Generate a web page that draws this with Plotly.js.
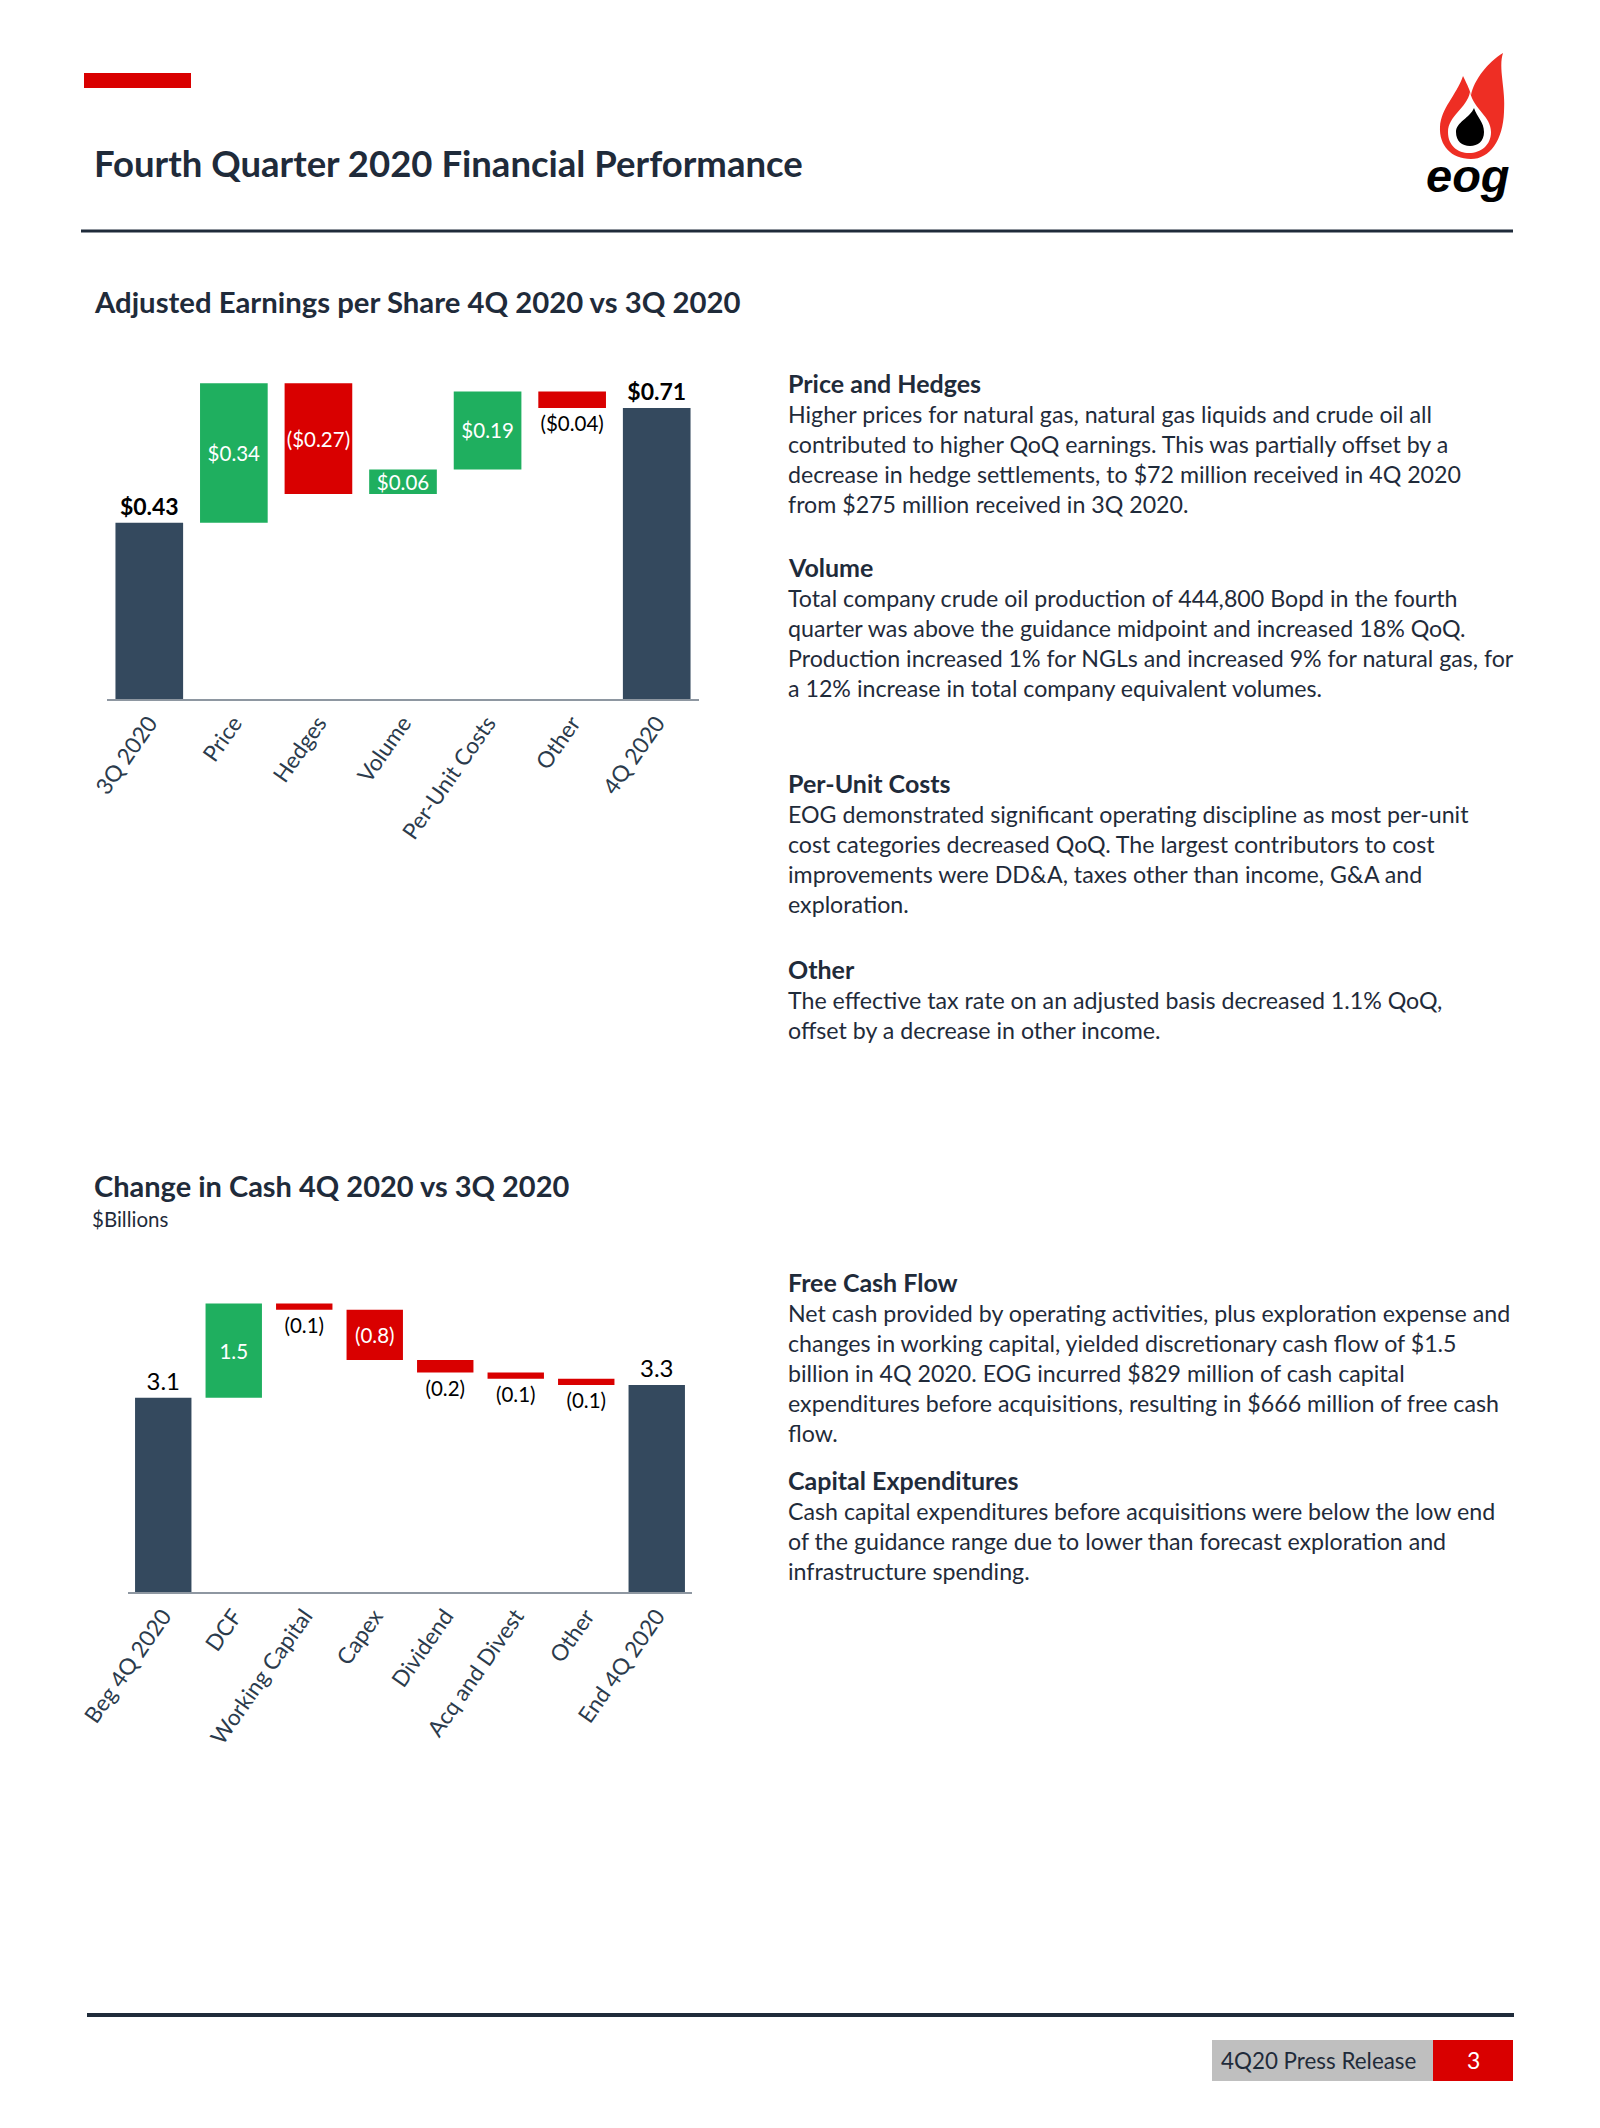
<!DOCTYPE html>
<html><head><meta charset="utf-8">
<script src="https://cdn.plot.ly/plotly-3.0.1.min.js"></script>
<style>html,body{margin:0;padding:0;background:#fff}#chart{width:1600px;height:2128px}</style>
</head><body><div id="chart"></div>
<script>
const W = 1600, H = 2128;

// ---------- Data: Adjusted EPS bridge ----------
const epsCategories = ['3Q 2020', 'Price', 'Hedges', 'Volume', 'Per-Unit Costs', 'Other', '4Q 2020'];
const epsValues = [0.43, 0.34, -0.27, 0.06, 0.19, -0.04, 0.71];
const epsMeasures = ['absolute', 'relative', 'relative', 'relative', 'relative', 'relative', 'total'];
const epsLabelPos = ['outside', 'inside', 'inside', 'inside', 'inside', 'outside', 'outside'];

// ---------- Data: Change in cash ($Billions) ----------
const cashCategories = ['Beg 4Q 2020', 'DCF', 'Working Capital', 'Capex', 'Dividend', 'Acq and Divest', 'Other', 'End 4Q 2020'];
const cashValues = [3.1, 1.5, -0.1, -0.8, -0.2, -0.1, -0.1, 3.3];
const cashMeasures = ['absolute', 'relative', 'relative', 'relative', 'relative', 'relative', 'relative', 'total'];
const cashLabelPos = ['outside', 'inside', 'outside', 'inside', 'outside', 'outside', 'outside', 'outside'];

const GREEN = '#1faf5f', RED = '#d90000', NAVY = '#34495e', INK = '#1f2b3a', FLAME = '#ee2e24';
const FONT = 'Lato, "Open Sans", sans-serif';

const epsText = epsValues.map((v, i) => {
  const s = v < 0 ? '($' + Math.abs(v).toFixed(2) + ')' : '$' + v.toFixed(2);
  return epsMeasures[i] === 'relative' ? s : '<b>' + s + '</b>';
});
const cashText = cashValues.map(v => v < 0 ? '(' + Math.abs(v).toFixed(1) + ')' : v.toFixed(1));
const colorFor = pos => pos === 'inside' ? '#ffffff' : '#000000';

const px = x => x / W, py = y => 1 - y / H;

function rect(x0, y0, x1, y1, color) {
  return {type: 'rect', xref: 'paper', yref: 'paper', x0: px(x0), x1: px(x1), y0: py(y1), y1: py(y0),
    fillcolor: color, line: {width: 0}, layer: 'above'};
}
function hline(x0, x1, y, w, color) {
  return {type: 'line', xref: 'paper', yref: 'paper', x0: px(x0), x1: px(x1), y0: py(y), y1: py(y),
    line: {color: color, width: w}, layer: 'above'};
}
function path(d, fill) {
  return {type: 'path', xref: 'paper', yref: 'paper', layer: 'above',
    path: d.replace(/(-?[\d.]+),(-?[\d.]+)/g, (m, a, b) => px(+a).toFixed(5) + ',' + py(+b).toFixed(5)),
    fillcolor: fill, line: {width: 0}};
}
function txt(x, y, text, size, color, extra) {
  return Object.assign({xref: 'paper', yref: 'paper', x: px(x), y: py(y), xanchor: 'left', yanchor: 'middle',
    text: text, showarrow: false, font: {family: FONT, size: size, color: color || INK}}, extra || {});
}

const shapes = [
  rect(84, 73, 191, 88, RED),
  hline(81, 1513, 231, 3, INK),
  hline(87, 1514, 2015, 4, INK),
  rect(1212, 2040, 1433, 2081, '#bfbfbf'),
  rect(1433, 2040, 1513, 2081, RED),
  // logo
  path('M 1471,159 C 1451,159 1439,145 1440,127 C 1441,108 1456,96 1463,76 C 1468,86 1470,91 1471,95 C 1474,80 1488,62 1503,53 C 1498,68 1506,90 1504,112 C 1503,140 1490,159 1471,159 Z', FLAME),
  path('M 1470,92 C 1467,108 1448,116 1448,132 C 1448,146 1458,153 1469,153 C 1481,153 1491,145 1491,132 C 1491,116 1474,110 1470,92 Z', '#ffffff'),
  path('M 1474,108 C 1470,118 1456,122 1456,132 C 1456,141 1462,146 1470,146 C 1478,146 1484,141 1484,132 C 1484,122 1477,117 1474,108 Z', '#000000')
];

const rightX = 788;
const blocks = [
  ['Price and Hedges', 383, [
    'Higher prices for natural gas, natural gas liquids and crude oil all',
    'contributed to higher QoQ earnings. This was partially offset by a',
    'decrease in hedge settlements, to $72 million received in 4Q 2020',
    'from $275 million received in 3Q 2020.']],
  ['Volume', 567, [
    'Total company crude oil production of 444,800 Bopd in the fourth',
    'quarter was above the guidance midpoint and increased 18% QoQ.',
    'Production increased 1% for NGLs and increased 9% for natural gas, for',
    'a 12% increase in total company equivalent volumes.']],
  ['Per-Unit Costs', 783, [
    'EOG demonstrated significant operating discipline as most per-unit',
    'cost categories decreased QoQ. The largest contributors to cost',
    'improvements were DD&amp;A, taxes other than income, G&amp;A and',
    'exploration.']],
  ['Other', 969, [
    'The effective tax rate on an adjusted basis decreased 1.1% QoQ,',
    'offset by a decrease in other income.']],
  ['Free Cash Flow', 1282, [
    'Net cash provided by operating activities, plus exploration expense and',
    'changes in working capital, yielded discretionary cash flow of $1.5',
    'billion in 4Q 2020. EOG incurred $829 million of cash capital',
    'expenditures before acquisitions, resulting in $666 million of free cash',
    'flow.']],
  ['Capital Expenditures', 1480, [
    'Cash capital expenditures before acquisitions were below the low end',
    'of the guidance range due to lower than forecast exploration and',
    'infrastructure spending.']]
];

const annotations = [
  txt(92, 163, '<b>Fourth Quarter 2020 Financial Performance</b>', 36.5),
  txt(92, 301, '<b>Adjusted Earnings per Share 4Q 2020 vs 3Q 2020</b>', 29.3),
  txt(92, 1185, '<b>Change in Cash 4Q 2020 vs 3Q 2020</b>', 29),
  txt(90, 1219, '$Billions', 20.5),
  txt(1219, 2060, '4Q20 Press Release', 22.4),
  txt(1473, 2060, '3', 23, '#ffffff', {xanchor: 'center'}),
  {xref: 'paper', yref: 'paper', x: px(1468), y: py(176), xanchor: 'center', yanchor: 'middle', showarrow: false,
    text: '<b><i>eog</i></b>', font: {family: '"Liberation Sans", Arial, sans-serif', size: 47, color: '#000000'}}
];
blocks.forEach(([head, y0, lines]) => {
  annotations.push(txt(rightX - 2, y0, '<b>' + head + '</b>', 25));
  lines.forEach((l, i) => annotations.push(txt(rightX - 2, y0 + 31 + i * 29.9, l, 23.2)));
});

const tickFont = {family: FONT, size: 22.5, color: '#2b3b4c'};

const traces = [
  {type: 'waterfall', xaxis: 'x', yaxis: 'y', x: epsCategories, y: epsValues, measure: epsMeasures,
    text: epsText, textinfo: 'text', textposition: epsLabelPos, insidetextanchor: 'middle', textangle: 0,
    constraintext: 'none', cliponaxis: false,
    textfont: {family: FONT, size: epsMeasures.map(m => m === 'relative' ? 20.5 : 23), color: epsLabelPos.map(colorFor)},
    increasing: {marker: {color: GREEN}}, decreasing: {marker: {color: RED}}, totals: {marker: {color: NAVY}},
    connector: {visible: false}, hoverinfo: 'none'},
  {type: 'waterfall', xaxis: 'x2', yaxis: 'y2', x: cashCategories, y: cashValues, measure: cashMeasures,
    text: cashText, textinfo: 'text', textposition: cashLabelPos, insidetextanchor: 'middle', textangle: 0,
    constraintext: 'none', cliponaxis: false,
    textfont: {family: FONT, size: cashMeasures.map(m => m === 'relative' ? 20.5 : 24), color: cashLabelPos.map(colorFor)},
    increasing: {marker: {color: GREEN}}, decreasing: {marker: {color: RED}}, totals: {marker: {color: NAVY}},
    connector: {visible: false}, hoverinfo: 'none'}
];

const baseX = {type: 'category', showline: true, linecolor: '#8e97a1', linewidth: 2, ticks: '', tickangle: -55,
  tickfont: tickFont, showgrid: false, zeroline: false, fixedrange: true};

const layout = {
  width: W, height: H, margin: {l: 0, r: 0, t: 0, b: 0, pad: 0},
  paper_bgcolor: '#ffffff', plot_bgcolor: 'rgba(0,0,0,0)', showlegend: false, waterfallgap: 0.2,
  font: {family: FONT, color: INK},
  xaxis: Object.assign({}, baseX, {domain: [107 / W, 699 / W], anchor: 'y'}),
  yaxis: {domain: [1 - 699 / H, 1 - 371 / H], range: [0, 0.8], visible: false, anchor: 'x', fixedrange: true},
  xaxis2: Object.assign({}, baseX, {domain: [128 / W, 692 / W], anchor: 'y2'}),
  yaxis2: {domain: [1 - 1592 / H, 1 - 1278.5 / H], range: [0, 5], visible: false, anchor: 'x2', fixedrange: true},
  shapes: shapes, annotations: annotations
};

Plotly.newPlot('chart', traces, layout, {staticPlot: true, displayModeBar: false});
</script></body></html>
